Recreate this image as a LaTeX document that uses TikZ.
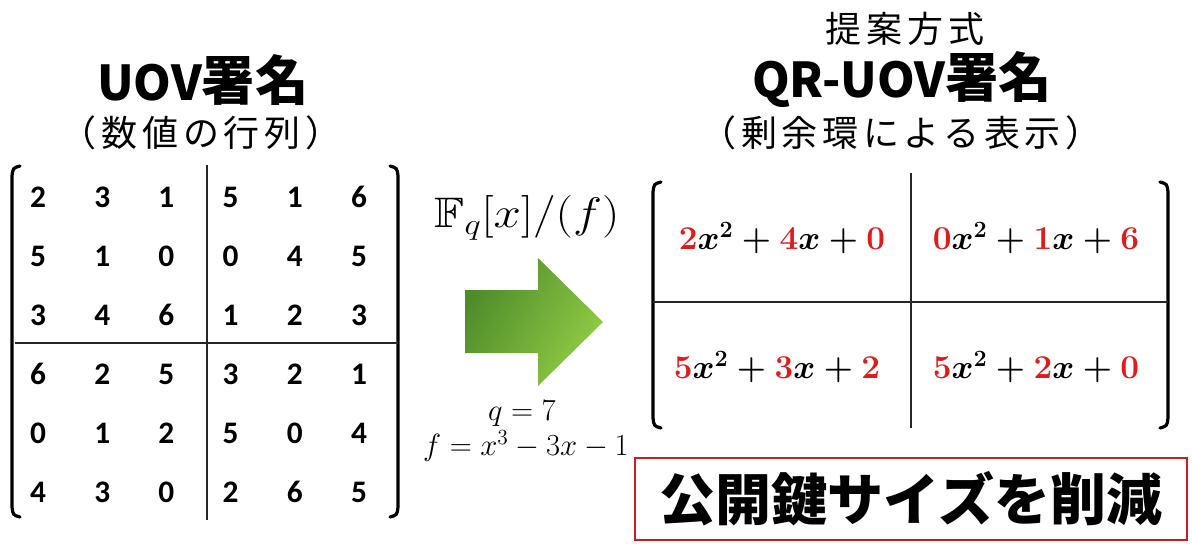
\RequirePackage{fix-cm}
\documentclass[tikz,border=0pt]{standalone}
\usepackage{amsmath,amssymb}
\usepackage{fontspec}
\newfontfamily\jpfont{Noto Sans CJK JP}
\newfontfamily\jpsub{Noto Sans CJK JP}[LetterSpace=13]
\newfontfamily\carfont{Carlito}
\definecolor{qred}{HTML}{E01B1B}
\definecolor{boxred}{HTML}{C81E23}
\definecolor{gdark}{HTML}{4E8C2A}
\definecolor{glight}{HTML}{92CC45}
\tikzset{
  title/.style={font=\jpfont\bfseries, inner sep=0pt},
  subtitle/.style={font=\jpsub\fontsize{27}{30}\selectfont, inner sep=0pt},
  num/.style={font=\carfont\bfseries\fontsize{23.5}{26}\selectfont, inner sep=0pt},
  poly/.style={font=\boldmath\fontsize{25}{28}\selectfont, inner sep=0pt},
  mathlbl/.style={font=\fontsize{23}{26}\selectfont, inner sep=0pt},
  bracket/.style={line width=2.4pt, line cap=round},
  grid/.style={line width=1.5pt, draw=black!85}
}
\newcommand{\rd}[1]{\textcolor{qred}{#1}}
\newcommand{\lat}[1]{{\fontsize{36}{40}\selectfont #1}}
\newcommand{\kan}[1]{{\fontsize{40}{44}\selectfont #1}}
\newcommand{\lp}{\kern-0.5em（}
\newcommand{\rp}{）\kern-0.5em}
\begin{document}
\begin{tikzpicture}[x=0.75pt,y=-0.75pt]
\useasboundingbox (0,0) rectangle (1192,543);
% left titles
\node[title] (ltitle) at (203,80) {\lat{UOV}\kan{署名}};
\node[subtitle] (lsub) at (201,133) {\lp 数値の行列\rp};
% left matrix brackets
\coordinate (lbt) at (20,166);
\coordinate (lbb) at (20,517);
\draw[bracket] (lbt) .. controls (13,168) .. (12,176) -- (12,507) .. controls (13,515) .. (lbb);
\coordinate (rbt) at (390,166);
\coordinate (rbb) at (390,517);
\draw[bracket] (rbt) .. controls (397,168) .. (398,176) -- (398,507) .. controls (397,515) .. (rbb);
\coordinate (lvt) at (207,165);
\coordinate (lvb) at (207,520);
\draw[grid] (lvt) -- (lvb);
\coordinate (lhl) at (15,343);
\coordinate (lhr) at (398,343);
\draw[grid] (lhl) -- (lhr);
% numbers
\foreach \row [count=\i] in {{2,3,1,5,1,6},{5,1,0,0,4,5},{3,4,6,1,2,3},{6,2,5,3,2,1},{0,1,2,5,0,4},{4,3,0,2,6,5}}{
  \foreach \v [count=\j] in \row {
    \pgfmathsetmacro{\xx}{38+64.2*(\j-1)}
    \pgfmathsetmacro{\yy}{197+59*(\i-1)}
    \node[num] (m\i\j) at (\xx,\yy) {\v};
  }
}
% arrow
\node[mathlbl, font=\fontsize{32}{36}\selectfont] (ring) at (527,218) {\scalebox{1.15}[1]{$\mathbb{F}_q[x]/(f)$}};
\shade[left color=gdark, right color=glight, shading angle=60]
  (465,290) -- (538,290) -- (538,258) -- (603,322) -- (538,386) -- (538,353) -- (465,353) -- cycle;
\node[mathlbl] (qeq) at (522,414) {$q=7$};
\node[mathlbl] (feq) at (526,446) {$f=x^3-3x-1$};
% right titles
\node[subtitle] (prop) at (905,29) {提案方式};
\node[title] (rtitle) at (902,80) {\lat{QR-UOV}\kan{署名}};
\node[subtitle] (rsub) at (901,133) {\lp 剰余環による表示\rp};
% right matrix
\coordinate (Lbt) at (661,182);
\coordinate (Lbb) at (661,428);
\draw[bracket] (Lbt) .. controls (654,184) .. (653,192) -- (653,418) .. controls (654,426) .. (Lbb);
\coordinate (Rbt) at (1160,182);
\coordinate (Rbb) at (1160,428);
\draw[bracket] (Rbt) .. controls (1167,184) .. (1168,192) -- (1168,418) .. controls (1167,426) .. (Rbb);
\coordinate (Rvt) at (911,173);
\coordinate (Rvb) at (911,428);
\draw[grid] (Rvt) -- (Rvb);
\coordinate (Rhl) at (653,302);
\coordinate (Rhr) at (1168,302);
\draw[grid] (Rhl) -- (Rhr);
\node[poly] (p11) at (782,238) {$\rd{2}x^2+\rd{4}x+\rd{0}$};
\node[poly] (p12) at (1036,238) {$\rd{0}x^2+\rd{1}x+\rd{6}$};
\node[poly] (p21) at (777,367) {$\rd{5}x^2+\rd{3}x+\rd{2}$};
\node[poly] (p22) at (1036,367) {$\rd{5}x^2+\rd{2}x+\rd{0}$};
% bottom box
\node[draw=boxred, line width=2.2pt, minimum width=552*0.75pt, minimum height=82*0.75pt, inner sep=0pt,
      font=\jpfont\bfseries\fontsize{42}{46}\selectfont] (reduce) at (911,499) {公開鍵サイズを削減};
\end{tikzpicture}
\end{document}
